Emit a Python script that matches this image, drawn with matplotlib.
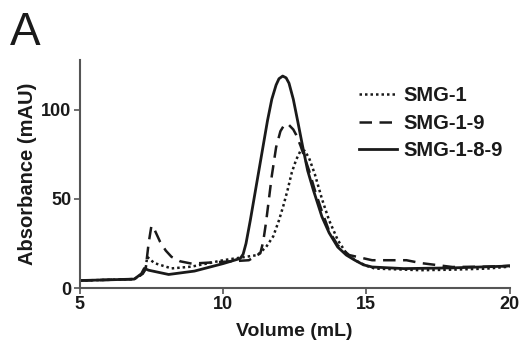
import matplotlib.pyplot as plt

plt.rcParams['font.family'] = ['Liberation Sans', 'DejaVu Sans']

# SMG-1 (dotted)
smg1_x = [5.0, 6.0, 6.9, 7.2, 7.3, 7.35, 7.6, 8.2, 8.9, 10.0, 11.2, 11.5, 11.75, 11.95, 12.1,
          12.25, 12.4, 12.55, 12.7, 12.85, 13.0, 13.2, 13.45, 13.7, 14.0, 14.3, 14.6, 15.0, 15.3,
          16.9, 18.0, 19.2, 20.0]
smg1_y = [4.2, 4.6, 5.0, 8.0, 11.0, 17.5, 14.0, 11.0, 12.0, 15.6, 18.5, 23.0, 29.0, 38.0, 46.0,
          55.0, 65.0, 72.0, 77.0, 77.0, 73.0, 64.0, 50.0, 38.0, 27.0, 19.5, 15.6, 12.5, 10.9,
          10.0, 10.3, 10.9, 12.0]

# SMG-1-9 (dashed)
smg19_x = [5.0, 6.0, 6.9, 7.2, 7.3, 7.4, 7.5, 7.6, 7.8, 8.0, 8.2, 8.5, 8.9, 10.0, 10.9, 11.3,
           11.4, 11.5, 11.6, 11.7, 11.85, 12.0, 12.15, 12.3, 12.45, 12.55, 12.7, 12.85, 13.0,
           13.2, 13.45, 13.7, 14.0, 14.4, 15.2, 16.4, 16.9, 18.0, 19.2, 20.0]
smg19_y = [4.2, 4.6, 5.0, 8.0, 11.0, 25.0, 35.0, 33.0, 26.0, 21.0, 17.5, 15.0, 13.7, 14.7, 15.6,
           19.5, 26.0, 37.0, 50.0, 63.0, 79.0, 88.0, 92.0, 91.5, 89.0, 86.0, 80.0, 73.0, 66.0,
           55.0, 43.0, 32.0, 24.0, 18.5, 15.6, 15.6, 14.0, 11.8, 12.0, 12.4]

# SMG-1-8-9 (solid)
smg189_x = [5.0, 6.0, 6.9, 7.15, 7.25, 7.4, 8.1, 9.0, 10.0, 10.6, 10.7, 10.8, 10.95, 11.1, 11.25,
            11.4, 11.55, 11.7, 11.85, 11.95, 12.08, 12.2, 12.3, 12.45, 12.6, 12.77, 12.95, 13.15,
            13.45, 13.7, 14.0, 14.3, 14.6, 14.9, 15.2, 16.3, 18.0, 19.75, 20.0]
smg189_y = [4.2, 4.6, 5.0, 8.0, 11.0, 10.0, 7.6, 9.5, 13.7, 16.6, 19.0, 25.0, 38.0, 52.0, 66.0,
            80.0, 94.0, 106.0, 114.0, 117.5, 119.0, 118.0, 115.0, 106.0, 94.0, 80.0, 66.0, 55.0,
            40.0, 31.0, 23.0, 18.5, 15.6, 13.0, 11.8, 10.9, 11.3, 12.2, 12.5]

xticks = [5, 10, 15, 20]
yticks = [0, 50, 100]

fig = plt.figure(figsize=(5.32, 3.47), dpi=100)
ax = fig.add_axes([0.150, 0.170, 0.808, 0.657])

col = '#1a1a1a'
ax.plot(smg1_x, smg1_y, color=col, lw=1.8, linestyle=(0, (1, 1.2)), label='SMG-1')
ax.plot(smg19_x, smg19_y, color=col, lw=1.8, linestyle=(0, (5, 3)), label='SMG-1-9')
ax.plot(smg189_x, smg189_y, color=col, lw=2.0, label='SMG-1-8-9')

ax.set_xlim(5, 20)
ax.set_ylim(0, 128)
ax.set_xticks(xticks)
ax.set_yticks(yticks)
ax.spines['top'].set_visible(False)
ax.spines['right'].set_visible(False)
for s in ['left', 'bottom']:
    ax.spines[s].set_color('#555555')
    ax.spines[s].set_linewidth(1.5)
ax.tick_params(colors='#555555', width=1.2, length=4, labelsize=13, pad=2)
for lbl in ax.get_xticklabels() + ax.get_yticklabels():
    lbl.set_fontweight('bold')
    lbl.set_color('#1a1a1a')

ax.set_xlabel('Volume (mL)', fontsize=14, fontweight='bold', color='#1a1a1a', labelpad=7)
ax.set_ylabel('Absorbance (mAU)', fontsize=14.5, fontweight='bold', color='#1a1a1a', labelpad=3)

leg = ax.legend(loc='upper right', bbox_to_anchor=(1.025, 0.965), frameon=False,
                handlelength=1.9, handletextpad=0.3, labelspacing=0.42,
                prop={'weight': 'bold', 'size': 14.5})
for t in leg.get_texts():
    t.set_color('#1a1a1a')

fig.text(0.018, 0.87, 'A', fontsize=33, color='#1a1a1a')

plt.savefig('out.png', dpi=100)
